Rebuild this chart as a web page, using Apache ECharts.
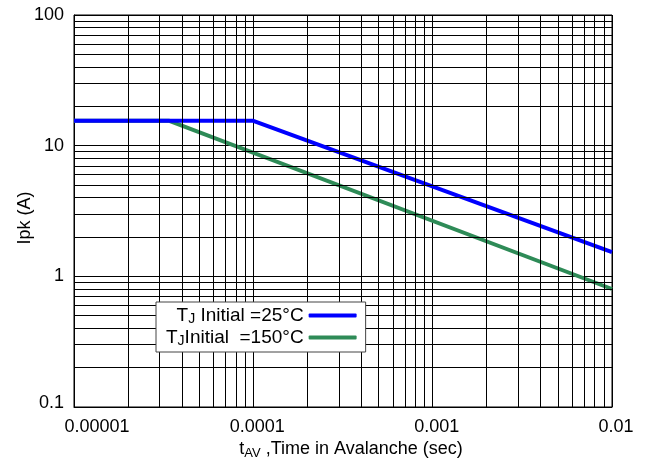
<!DOCTYPE html>
<html><head><meta charset="utf-8">
<script src="https://cdn.jsdelivr.net/npm/echarts@6/dist/echarts.min.js"></script>
<style>html,body{margin:0;padding:0;background:#fff}#c{width:645px;height:465px}</style>
</head><body><div id="c"></div>
<script>
// ---- data ----
const xTicks = [1e-5, 1e-4, 1e-3, 1e-2];
const xTickLabels = ['0.00001', '0.0001', '0.001', '0.01'];
const yTicks = [0.1, 1, 10, 100];
const yTickLabels = ['0.1', '1', '10', '100'];
const minorMultipliers = [2, 3, 4, 5, 6, 7, 8, 9];
const xDecades = [-5, -4, -3];
const yDecades = [-1, 0, 1];
const seriesKeys = ['TJ25', 'TJ150'];
const legendLabels = ['T{sub|J} Initial =25°C', 'T{sub|J}Initial  =150°C'];
const tAv25 = [1e-5, 1e-4, 1e-2];
const ipk25 = [15.5, 15.5, 1.53];
const tAv150 = [1e-5, 3.4e-5, 1e-2];
const ipk150 = [15.5, 15.5, 0.8];

const FONT = 'Liberation Sans, Arial, Helvetica, sans-serif';
const nearestIdx = (ticks, v) => {
  let best = -1, bd = 1e9;
  ticks.forEach((t, i) => { const d = Math.abs(Math.log10(v) - Math.log10(t)); if (d < bd) { bd = d; best = i; } });
  return bd < 0.01 ? best : -1;
};

const xMin = xTicks[0], xMax = xTicks[xTicks.length - 1];
const yMin = yTicks[0], yMax = yTicks[yTicks.length - 1];
const gridLines = [];
xDecades.forEach(e => minorMultipliers.forEach(m => {
  const v = m * Math.pow(10, e);
  gridLines.push([{ coord: [v, yMin] }, { coord: [v, yMax] }]);
}));
yDecades.forEach(e => minorMultipliers.forEach(m => {
  const v = m * Math.pow(10, e);
  gridLines.push([{ coord: [xMin, v] }, { coord: [xMax, v] }]);
}));

const chart = echarts.init(document.getElementById('c'), null, { renderer: 'canvas' });
chart.setOption({
  animation: false,
  backgroundColor: '#fff',
  grid: { left: 74, right: 33, top: 15, bottom: 58, show: true, borderColor: '#000', borderWidth: 1, containLabel: false, outerBoundsMode: 'none' },
  xAxis: {
    type: 'log', logBase: 10, min: xMin, max: xMax, splitNumber: 3,
    axisLine: { show: true, lineStyle: { color: '#000', width: 1 } },
    axisTick: { show: false },
    splitLine: { show: true, lineStyle: { color: '#000', width: 1 } },
    axisLabel: {
      margin: 11, color: '#000', fontFamily: FONT, fontSize: 18,
      formatter: v => { const i = nearestIdx(xTicks, v); if (i < 0) return ''; return i === 0 ? '{first|' + xTickLabels[i] + '}' : '{n|' + xTickLabels[i] + '}'; },
      rich: {
        first: { fontFamily: FONT, fontSize: 18, color: '#000', padding: [0, 0, 0, 46] },
        n: { fontFamily: FONT, fontSize: 18, color: '#000', padding: [0, 0, 0, 8] }
      }
    },
    name: 't{sub|AV} ,Time in Avalanche (sec)',
    nameLocation: 'middle', nameGap: 32, nameMoveOverlap: false,
    nameTextStyle: {
      fontFamily: FONT, fontSize: 18, color: '#000', padding: [0, 0, 0, 16],
      rich: { sub: { fontFamily: FONT, fontSize: 13, color: '#000', verticalAlign: 'bottom', padding: [8, 0, 0, 0] } }
    }
  },
  yAxis: {
    type: 'log', logBase: 10, min: yMin, max: yMax, splitNumber: 3,
    axisLine: { show: true, lineStyle: { color: '#000', width: 1 } },
    axisTick: { show: false },
    splitLine: { show: true, lineStyle: { color: '#000', width: 1 } },
    axisLabel: {
      margin: 10, color: '#000', fontFamily: FONT, fontSize: 18,
      formatter: v => { const i = nearestIdx(yTicks, v); if (i < 0) return ''; return i === 0 ? '{first|' + yTickLabels[i] + '}' : yTickLabels[i]; },
      rich: { first: { fontFamily: FONT, fontSize: 18, color: '#000', padding: [0, 0, 8, 0] } }
    },
    name: 'Ipk (A)',
    nameLocation: 'middle', nameGap: 40, nameMoveOverlap: false,
    nameTextStyle: { fontFamily: FONT, fontSize: 18, color: '#000', padding: [0, 14, 0, 0] }
  },
  legend: {
    data: seriesKeys, orient: 'vertical', align: 'right', left: 156, top: 302,
    padding: [4, 9, 4, 10], itemGap: 2, itemWidth: 48, itemHeight: 4, icon: 'roundRect',
    backgroundColor: '#fff', borderColor: '#444', borderWidth: 1, selectedMode: false,
    formatter: n => legendLabels[seriesKeys.indexOf(n)],
    textStyle: {
      fontFamily: FONT, fontSize: 19, color: '#000',
      rich: { sub: { fontFamily: FONT, fontSize: 14, color: '#000', verticalAlign: 'bottom', padding: [7, 0, 0, 0] } }
    },
    z: 10
  },
  series: [
    {
      name: 'grid', type: 'line', data: [], silent: true, z: 1,
      markLine: {
        silent: true, symbol: 'none', label: { show: false }, animation: false,
        lineStyle: { color: '#000', width: 1, type: 'solid' },
        emphasis: { disabled: true },
        data: gridLines
      }
    },
    {
      name: 'TJ150', type: 'line', data: tAv150.map((x, i) => [x, ipk150[i]]),
      symbol: 'none', showSymbol: false, z: 3,
      lineStyle: { color: '#2e8b57', width: 4 }, itemStyle: { color: '#2e8b57' }
    },
    {
      name: 'TJ25', type: 'line', data: tAv25.map((x, i) => [x, ipk25[i]]),
      symbol: 'none', showSymbol: false, z: 4,
      lineStyle: { color: '#0000ff', width: 4 }, itemStyle: { color: '#0000ff' }
    }
  ]
});
</script>
</body></html>
